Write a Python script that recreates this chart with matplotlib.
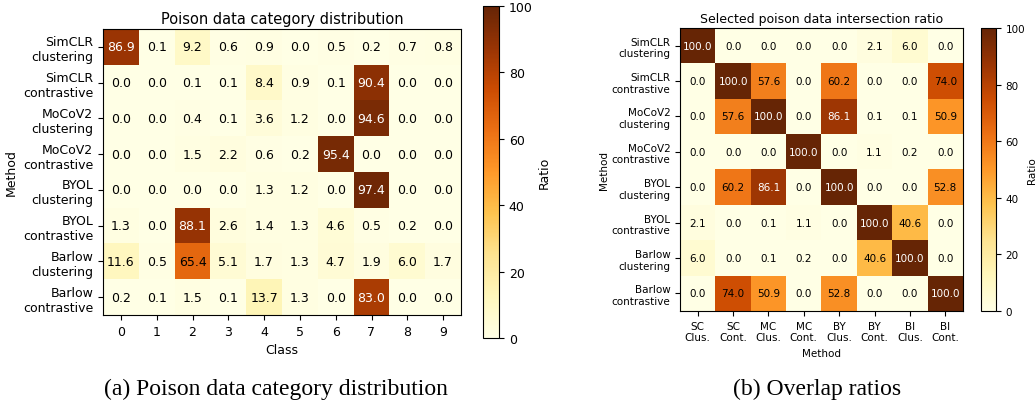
import matplotlib
matplotlib.use("Agg")
import matplotlib.pyplot as plt
import numpy as np

# donnees
methods = ["SimCLR\nclustering", "SimCLR\ncontrastive", "MoCoV2\nclustering", "MoCoV2\ncontrastive",
           "BYOL\nclustering", "BYOL\ncontrastive", "Barlow\nclustering", "Barlow\ncontrastive"]
classes = ["0", "1", "2", "3", "4", "5", "6", "7", "8", "9"]
short_methods = ["SC\nClus.", "SC\nCont.", "MC\nClus.", "MC\nCont.",
                 "BY\nClus.", "BY\nCont.", "Bl\nClus.", "Bl\nCont."]

category_dist = [
    [86.9, 0.1, 9.2, 0.6, 0.9, 0.0, 0.5, 0.2, 0.7, 0.8],
    [0.0, 0.0, 0.1, 0.1, 8.4, 0.9, 0.1, 90.4, 0.0, 0.0],
    [0.0, 0.0, 0.4, 0.1, 3.6, 1.2, 0.0, 94.6, 0.0, 0.0],
    [0.0, 0.0, 1.5, 2.2, 0.6, 0.2, 95.4, 0.0, 0.0, 0.0],
    [0.0, 0.0, 0.0, 0.0, 1.3, 1.2, 0.0, 97.4, 0.0, 0.0],
    [1.3, 0.0, 88.1, 2.6, 1.4, 1.3, 4.6, 0.5, 0.2, 0.0],
    [11.6, 0.5, 65.4, 5.1, 1.7, 1.3, 4.7, 1.9, 6.0, 1.7],
    [0.2, 0.1, 1.5, 0.1, 13.7, 1.3, 0.0, 83.0, 0.0, 0.0],
]

overlap = [
    [100.0, 0.0, 0.0, 0.0, 0.0, 2.1, 6.0, 0.0],
    [0.0, 100.0, 57.6, 0.0, 60.2, 0.0, 0.0, 74.0],
    [0.0, 57.6, 100.0, 0.0, 86.1, 0.1, 0.1, 50.9],
    [0.0, 0.0, 0.0, 100.0, 0.0, 1.1, 0.2, 0.0],
    [0.0, 60.2, 86.1, 0.0, 100.0, 0.0, 0.0, 52.8],
    [2.1, 0.0, 0.1, 1.1, 0.0, 100.0, 40.6, 0.0],
    [6.0, 0.0, 0.1, 0.2, 0.0, 40.6, 100.0, 0.0],
    [0.0, 74.0, 50.9, 0.0, 52.8, 0.0, 0.0, 100.0],
]

W, H = 1036, 402
fig = plt.figure(figsize=(W / 100, H / 100), dpi=100)


def box(x0, y0, x1, y1):
    # pixels (haut-gauche) -> coordonnees figure
    return [x0 / W, 1 - y1 / H, (x1 - x0) / W, (y1 - y0) / H]


def heatmap(ax, cax, data, xlabels, ylabels, title, xlabel, fs, title_fs):
    data = np.array(data)
    im = ax.imshow(data, cmap="YlOrBr", vmin=0, vmax=100, aspect="auto")
    ax.set_xticks(range(len(xlabels)))
    ax.set_xticklabels(xlabels, fontsize=fs)
    ax.set_yticks(range(len(ylabels)))
    ax.set_yticklabels(ylabels, fontsize=fs)
    ax.set_title(title, fontsize=title_fs, pad=4)
    ax.set_xlabel(xlabel, fontsize=fs)
    ax.set_ylabel("Method", fontsize=fs)
    for i in range(data.shape[0]):
        for j in range(data.shape[1]):
            v = data[i, j]
            ax.text(j, i, f"{v:.1f}", ha="center", va="center", fontsize=fs,
                    color="white" if v > 80 else "black")
    cb = fig.colorbar(im, cax=cax)
    cb.set_ticks([0, 20, 40, 60, 80, 100])
    cb.ax.tick_params(labelsize=fs)
    cb.set_label("Ratio", fontsize=fs)
    return cb


ax1 = fig.add_axes(box(103, 30, 461, 316))
cax1 = fig.add_axes(box(483, 7, 499, 339))
heatmap(ax1, cax1, category_dist, classes, methods,
        "Poison data category distribution", "Class", 9, 10.5)

ax2 = fig.add_axes(box(680, 29, 963, 312))
cax2 = fig.add_axes(box(981, 29, 996, 312))
cb2 = heatmap(ax2, cax2, overlap, short_methods, methods,
              "Selected poison data intersection ratio", "Method", 7.5, 9)
ax2.yaxis.labelpad = 2
cb2.ax.yaxis.labelpad = 1

# legendes sous les deux figures
fig.text(276 / W, 1 - 389 / H, "(a) Poison data category distribution",
         family="Liberation Serif", fontsize=17, ha="center", va="center")
fig.text(817 / W, 1 - 389 / H, "(b) Overlap ratios",
         family="Liberation Serif", fontsize=17, ha="center", va="center")

fig.savefig("out.png", dpi=100)
